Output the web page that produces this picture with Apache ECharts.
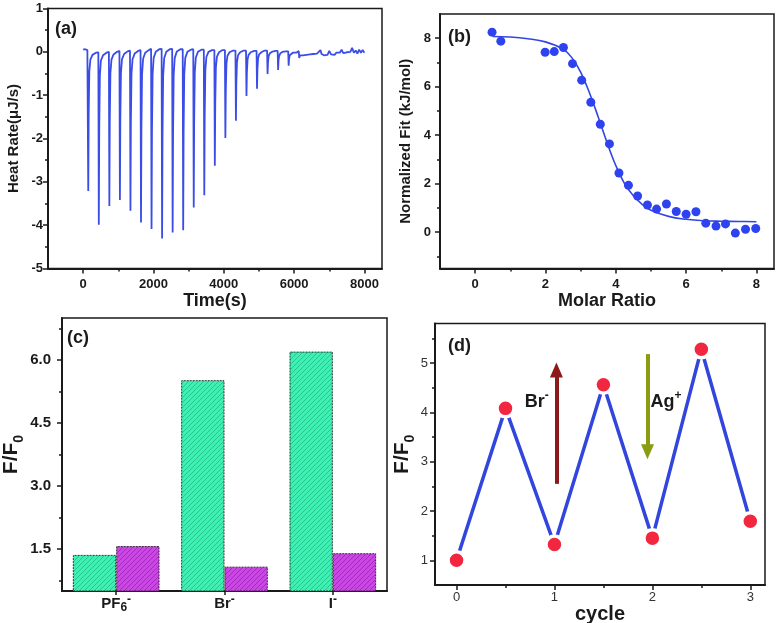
<!DOCTYPE html>
<html><head><meta charset="utf-8">
<script src="https://cdn.jsdelivr.net/npm/echarts@6/dist/echarts.min.js"></script>
<style>html,body{margin:0;padding:0;background:#fff}#c{width:779px;height:623px}</style>
</head><body><div id="c"></div>
<script>
// ---------- Panel (a): ITC heat-rate trace [time (s), heat rate (uJ/s)] ----------
const heatTrace = [
 [0,0.05],[30,0.04],[60,0.06],[90,0.03],[120,0.04],
 [135,0.04],[145,-3.21],[157,-1.45],[175,-0.45],[205,-0.18],[265,-0.07],[365,-0.02],
 [432,-0.01],[445,-3.99],[457,-1.8],[475,-0.55],[505,-0.2],[565,-0.08],[665,-0.02],
 [732,0.0],[745,-3.56],[757,-1.6],[775,-0.5],[805,-0.18],[865,-0.06],[965,0.0],
 [1032,0.02],[1045,-3.42],[1057,-1.55],[1075,-0.48],[1105,-0.17],[1165,-0.05],[1265,0.01],
 [1332,0.03],[1345,-3.67],[1357,-1.65],[1375,-0.5],[1405,-0.17],[1465,-0.04],[1565,0.02],
 [1632,0.04],[1645,-3.94],[1657,-1.78],[1675,-0.52],[1705,-0.16],[1765,-0.02],[1865,0.04],
 [1932,0.07],[1945,-4.09],[1957,-1.85],[1975,-0.52],[2005,-0.14],[2065,0.0],[2165,0.06],
 [2232,0.07],[2245,-4.31],[2257,-1.95],[2275,-0.55],[2305,-0.15],[2365,0.0],[2465,0.06],
 [2532,0.07],[2545,-4.17],[2557,-1.9],[2575,-0.53],[2605,-0.14],[2665,0.01],[2765,0.06],
 [2832,0.06],[2845,-4.12],[2857,-1.86],[2875,-0.52],[2905,-0.14],[2965,0.0],[3065,0.05],
 [3132,0.06],[3145,-3.59],[3157,-1.62],[3175,-0.47],[3205,-0.13],[3265,0.0],[3365,0.05],
 [3432,0.05],[3445,-3.31],[3457,-1.5],[3475,-0.43],[3505,-0.12],[3565,0.0],[3665,0.04],
 [3732,0.04],[3745,-2.63],[3757,-1.2],[3775,-0.36],[3805,-0.11],[3865,-0.01],[3965,0.04],
 [4032,0.04],[4045,-1.99],[4057,-0.9],[4075,-0.28],[4105,-0.09],[4165,-0.01],[4265,0.03],
 [4332,0.03],[4345,-1.59],[4357,-0.72],[4375,-0.24],[4405,-0.08],[4465,-0.01],[4565,0.03],
 [4632,0.03],[4645,-1.02],[4657,-0.48],[4675,-0.18],[4705,-0.07],[4765,-0.01],[4865,0.02],
 [4932,0.02],[4945,-0.85],[4957,-0.4],[4975,-0.15],[5005,-0.06],[5065,-0.01],[5165,0.03],
 [5232,0.03],[5245,-0.51],[5257,-0.25],[5275,-0.1],[5305,-0.04],[5365,0.0],[5465,0.02],
 [5532,0.02],[5545,-0.42],[5557,-0.2],[5575,-0.09],[5605,-0.04],[5665,0.0],[5765,0.01],
 [5832,0.01],[5845,-0.32],[5857,-0.16],[5875,-0.08],[5905,-0.05],[5965,-0.02],[6065,-0.02],
 [6132,0.02],[6145,-0.14],[6170,-0.08],[6210,-0.1],[6260,-0.08],
 [6300,-0.12],[6350,-0.07],[6400,-0.11],[6450,-0.06],[6500,-0.1],[6550,-0.05],[6600,-0.09],
 [6650,-0.04],[6700,-0.06],[6750,0.04],[6780,-0.05],[6850,-0.08],[6900,-0.04],[6950,-0.07],
 [7000,0.02],[7050,-0.06],[7100,-0.04],[7150,-0.07],[7200,-0.02],[7250,-0.05],[7300,-0.02],
 [7350,0.05],[7400,-0.03],[7450,-0.06],[7500,-0.01],[7550,-0.04],[7600,0.0],[7650,0.09],
 [7700,-0.02],[7750,0.03],[7800,-0.04],[7850,0.05],[7900,-0.02],[7950,0.04],[8000,-0.02]
];
const aXLabels = [0, 2000, 4000, 6000, 8000];
const aXMinor = [1000, 3000, 5000, 7000];
const aYLabels = [-5, -4, -3, -2, -1, 0, 1];
const aYMinor = [-4.5, -3.5, -2.5, -1.5, -0.5, 0.5];

// ---------- Panel (b): normalized fit ----------
const molarRatio = [0.48,0.73,1.99,2.25,2.51,2.77,3.03,3.29,3.56,3.82,4.09,4.36,4.62,4.90,5.16,5.44,5.72,6.00,6.28,6.56,6.85,7.12,7.40,7.69,7.98];
const normHeat   = [8.25,7.88,7.42,7.45,7.62,6.95,6.27,5.36,4.45,3.64,2.44,1.93,1.49,1.12,0.95,1.16,0.85,0.74,0.84,0.37,0.25,0.34,-0.04,0.12,0.15];
const fitX = [0.5,1.0,1.5,2.0,2.5,2.75,3.0,3.25,3.5,3.75,4.0,4.25,4.5,4.75,5.0,5.5,6.0,6.5,7.0,7.5,8.0];
const fitY = [8.07,8.05,7.98,7.85,7.55,7.2,6.6,5.75,4.75,3.7,2.75,2.0,1.5,1.15,0.9,0.65,0.53,0.47,0.45,0.44,0.43];
const bXLabels = [0, 2, 4, 6, 8];
const bXMinor = [1, 3, 5, 7];
const bYLabels = [0, 2, 4, 6, 8];
const bYMinor = [-1, 1, 3, 5, 7];

// ---------- Panel (c): F/F0 bars ----------
const anions = ['PF{s|6}{p|-}', 'Br{p|-}', 'I{p|-}'];
const greenBars = [1.36, 5.52, 6.20];
const purpleBars = [1.57, 1.08, 1.40];
const cYLabels = [1.5, 3.0, 4.5, 6.0];
const cYMinor = [0.75, 2.25, 3.75, 5.25, 6.75];

// ---------- Panel (d): cycles ----------
const cycle = [0, 0.5, 1, 1.5, 2, 2.5, 3];
const ratioF = [1.0, 4.08, 1.32, 4.56, 1.45, 5.28, 1.79];
const dXLabels = [0, 1, 2, 3];
const dXMinor = [0.5, 1.5, 2.5];
const dYLabels = [1, 2, 3, 4, 5];
const dYMinor = [1.5, 2.5, 3.5, 4.5, 5.5];
const brArrow = [[1.02, 2.55], [1.02, 4.86]];
const agArrow = [[1.95, 5.18], [1.95, 3.2]];

const FONT = 'Liberation Sans, Arial, Helvetica, sans-serif';
const INK = '#1a1a1a';

function hatch(bg, line) {
  const s = 5;
  const cv = document.createElement('canvas');
  cv.width = s; cv.height = s;
  const g = cv.getContext('2d');
  g.fillStyle = bg; g.fillRect(0, 0, s, s);
  g.strokeStyle = line; g.lineWidth = 0.9;
  g.beginPath();
  g.moveTo(-1, s + 1); g.lineTo(s + 1, -1);
  g.moveTo(-1, 1); g.lineTo(1, -1);
  g.moveTo(s - 1, s + 1); g.lineTo(s + 1, s - 1);
  g.stroke();
  return {image: cv, repeat: 'repeat'};
}

function mainAxis(gridIndex, position, min, max, labels, o) {
  return {
    type: 'value', gridIndex, position, min, max,
    name: o.name, nameLocation: 'middle', nameGap: o.nameGap,
    nameTextStyle: Object.assign({fontFamily: FONT, fontWeight: 'bold', fontSize: o.nameSize, color: INK}, o.nameStyle || {}),
    axisLine: {show: true, onZero: false, lineStyle: {color: INK, width: 2}},
    axisTick: {show: true, inside: false, length: 5, customValues: labels, lineStyle: {color: INK, width: 1.5}},
    axisLabel: {show: true, customValues: labels, margin: o.margin, color: o.labelColor || INK,
      fontFamily: FONT, fontWeight: o.labelWeight || 'bold', fontSize: o.labelSize,
      formatter: o.fmt || (v => String(v))},
    splitLine: {show: false}
  };
}
function minorAxis(gridIndex, position, min, max, minors) {
  return {type: 'value', gridIndex, position, min, max, offset: 0,
    axisLine: {show: false, onZero: false}, axisLabel: {show: false}, splitLine: {show: false},
    axisTick: {show: true, inside: false, length: 3, customValues: minors, lineStyle: {color: INK, width: 1.5}}};
}

const gridBase = {show: true, borderColor: INK, borderWidth: 1.5, backgroundColor: 'transparent', containLabel: false, outerBoundsMode: 'none'};
const subRich = {fontFamily: FONT, fontWeight: 'bold', fontSize: 14, color: INK, verticalAlign: 'bottom'};

const option = {
  animation: false,
  backgroundColor: '#fff',
  title: [
    {text: '(a)', left: 55, top: 20, padding: 0, textStyle: {fontFamily: FONT, fontWeight: 'bold', fontSize: 18, color: INK}},
    {text: '(b)', left: 448, top: 28, padding: 0, textStyle: {fontFamily: FONT, fontWeight: 'bold', fontSize: 18, color: INK}},
    {text: '(c)', left: 67, top: 329, padding: 0, textStyle: {fontFamily: FONT, fontWeight: 'bold', fontSize: 18, color: INK}},
    {text: '(d)', left: 448, top: 337, padding: 0, textStyle: {fontFamily: FONT, fontWeight: 'bold', fontSize: 18, color: INK}}
  ],
  grid: [
    Object.assign({left: 48, top: 8.5, width: 334, height: 260}, gridBase),
    Object.assign({left: 440, top: 14, width: 334, height: 254.5}, gridBase),
    Object.assign({left: 62, top: 318, width: 325, height: 273}, gridBase),
    Object.assign({left: 435, top: 323.5, width: 330, height: 261.5}, gridBase)
  ],
  xAxis: [
    mainAxis(0, 'bottom', -1000, 8500, aXLabels, {name: 'Time(s)', nameGap: 24, nameSize: 18, margin: 9, labelSize: 13}),
    minorAxis(0, 'bottom', -1000, 8500, aXMinor),
    mainAxis(1, 'bottom', -1, 8.5, bXLabels, {name: 'Molar Ratio', nameGap: 24, nameSize: 18, margin: 9, labelSize: 13}),
    minorAxis(1, 'bottom', -1, 8.5, bXMinor),
    {
      type: 'category', gridIndex: 2, position: 'bottom', data: anions,
      axisLine: {show: true, onZero: false, lineStyle: {color: INK, width: 2}},
      axisTick: {show: true, alignWithLabel: true, length: 4, lineStyle: {color: INK, width: 1.5}},
      axisLabel: {margin: 3, color: INK, fontFamily: FONT, fontWeight: 'bold', fontSize: 15, lineHeight: 20,
        rich: {
          s: {fontFamily: FONT, fontWeight: 'bold', fontSize: 12, color: INK, verticalAlign: 'bottom'},
          p: {fontFamily: FONT, fontWeight: 'bold', fontSize: 12, color: INK, verticalAlign: 'top'}
        }},
      splitLine: {show: false}
    },
    mainAxis(3, 'bottom', -0.22, 3.15, dXLabels, {name: 'cycle', nameGap: 10, nameSize: 20, margin: 6, labelSize: 13, labelWeight: 'normal', labelColor: '#333'}),
    minorAxis(3, 'bottom', -0.22, 3.15, dXMinor)
  ],
  yAxis: [
    mainAxis(0, 'left', -5, 1, aYLabels, {name: 'Heat Rate(μJ/s)', nameGap: 27, nameSize: 15, margin: 5, labelSize: 13}),
    minorAxis(0, 'left', -5, 1, aYMinor),
    mainAxis(1, 'left', -1.5, 9, bYLabels, {name: 'Normalized Fit (kJ/mol)', nameGap: 27, nameSize: 15, margin: 9, labelSize: 13}),
    minorAxis(1, 'left', -1.5, 9, bYMinor),
    mainAxis(2, 'left', 0.5, 7.0, cYLabels, {name: 'F/F{s|0}', nameGap: 34, nameSize: 21, margin: 11, labelSize: 15,
      fmt: v => v.toFixed(1), nameStyle: {lineHeight: 30, rich: {s: subRich}}}),
    minorAxis(2, 'left', 0.5, 7.0, cYMinor),
    mainAxis(3, 'left', 0.5, 5.8, dYLabels, {name: 'F/F{s|0}', nameGap: 17, nameSize: 21, margin: 7, labelSize: 13, labelWeight: 'normal', labelColor: '#333',
      nameStyle: {lineHeight: 30, rich: {s: subRich}}}),
    minorAxis(3, 'left', 0.5, 5.8, dYMinor)
  ],
  series: [
    {type: 'line', xAxisIndex: 0, yAxisIndex: 0, data: heatTrace, showSymbol: false, symbol: 'none',
     lineStyle: {color: '#3b4de6', width: 1.8}, z: 3},
    {type: 'scatter', xAxisIndex: 2, yAxisIndex: 2, data: molarRatio.map((x, i) => [x, normHeat[i]]),
     symbol: 'circle', symbolSize: 9, itemStyle: {color: '#2e43ef', opacity: 1}, z: 4},
    {type: 'line', xAxisIndex: 2, yAxisIndex: 2, data: fitX.map((x, i) => [x, fitY[i]]), smooth: 0.4,
     showSymbol: false, symbol: 'none', lineStyle: {color: '#3346e2', width: 1.6}, z: 3},
    {type: 'bar', xAxisIndex: 4, yAxisIndex: 4, data: greenBars, barGap: '0%', barCategoryGap: '20%',
     itemStyle: {color: hatch('#3ff0b4', 'rgba(20,150,100,0.55)'), borderColor: '#2a3a33', borderWidth: 1, borderType: [2, 1]}},
    {type: 'bar', xAxisIndex: 4, yAxisIndex: 4, data: purpleBars, barGap: '0%', barCategoryGap: '20%',
     itemStyle: {color: hatch('#cc46e6', 'rgba(110,20,140,0.55)'), borderColor: '#3a2a3a', borderWidth: 1, borderType: [2, 1]}},
    {type: 'line', xAxisIndex: 5, yAxisIndex: 6, data: cycle.map((x, i) => [x, ratioF[i]]),
     symbol: 'circle', symbolSize: 17, showSymbol: true,
     lineStyle: {color: '#3245dc', width: 3.5},
     itemStyle: {color: '#f3263f', borderColor: '#ffffff', borderWidth: 3.5},
     markLine: {
       silent: true, animation: false, symbol: ['none', 'triangle'], symbolSize: 14,
       label: {show: false},
       data: [
         [{coord: brArrow[0], symbol: 'none', lineStyle: {color: '#8c1a1a', width: 4, type: 'solid'}, itemStyle: {color: '#8c1a1a'}},
          {coord: brArrow[1], symbol: 'triangle', symbolSize: [13, 15], itemStyle: {color: '#8c1a1a'}}],
         [{coord: agArrow[0], symbol: 'none', lineStyle: {color: '#8a9c10', width: 4, type: 'solid'}, itemStyle: {color: '#8a9c10'}},
          {coord: agArrow[1], symbol: 'triangle', symbolSize: [13, 15], itemStyle: {color: '#8a9c10'}}]
       ]
     },
     markPoint: {
       silent: true, animation: false, symbol: 'circle', symbolSize: 1,
       itemStyle: {color: 'rgba(0,0,0,0)'},
       label: {show: true, position: 'inside', color: INK, fontFamily: FONT, fontWeight: 'bold', fontSize: 18, lineHeight: 26,
         rich: {p: {fontFamily: FONT, fontWeight: 'bold', fontSize: 12, color: INK, verticalAlign: 'top'}},
         formatter: p => p.name},
       data: [
         {name: 'Br{p|-}', coord: [0.82, 4.2]},
         {name: 'Ag{p|+}', coord: [2.14, 4.2]}
       ]
     }, z: 3}
  ]
};

const chart = echarts.init(document.getElementById('c'), null, {renderer: 'canvas'});
chart.setOption(option);
</script></body></html>
